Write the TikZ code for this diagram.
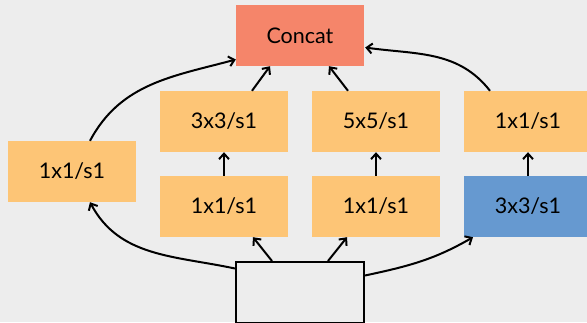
\documentclass[tikz,border=0pt]{standalone}
\usepackage{fontspec}
\setmainfont{Lato}
\usetikzlibrary{arrows.meta,calc}
\definecolor{bg}{HTML}{EDEDED}
\definecolor{orangebox}{HTML}{FDC576}
\definecolor{salmonbox}{HTML}{F5856A}
\definecolor{bluebox}{HTML}{6699D0}
\tikzset{
  box/.style={minimum width=128pt,minimum height=61pt,inner sep=0pt,
    font=\fontsize{21.5}{25}\selectfont},
  conv/.style={box,fill=orangebox},
  arr/.style={line width=2pt,-{Straight Barb[length=5.5pt,width=10pt,line width=2pt]}}
}
\begin{document}
\begin{tikzpicture}[x=1pt,y=-1pt]
\fill[bg] (0,0) rectangle (587,322);
\useasboundingbox (0,0) rectangle (587,322);
\node[box,fill=salmonbox] (concat) at (300,35.5) {Concat};
\node[conv] (a3) at (224,121.5) {3x3/s1};
\node[conv] (a5) at (376,121.5) {5x5/s1};
\node[conv] (a1) at (528,121.5) {1x1/s1};
\node[conv] (lft) at (72,171.5) {1x1/s1};
\node[conv] (b1) at (224,206.5) {1x1/s1};
\node[conv] (b2) at (376,206.5) {1x1/s1};
\node[box,fill=bluebox] (b3) at (528,206.5) {3x3/s1};
\node[box,draw,fill=bg,line width=2pt,minimum height=61pt] (inp) at (300,292.5) {};
% to concat
\draw[arr] ([xshift=18pt]lft.north) to[out=62,in=195] ([yshift=-24pt]concat.west);
\draw[arr] ([xshift=28pt]a3.north) -- ([xshift=-30pt]concat.south);
\draw[arr] ([xshift=-28pt]a5.north) -- ([xshift=29pt]concat.south);
\draw[arr] ([xshift=-38pt]a1.north) to[out=128,in=-8] ([yshift=-12pt,xshift=1pt]concat.east);
% vertical
\draw[arr] (b1.north) -- (a3.south);
\draw[arr] (b2.north) -- (a5.south);
\draw[arr] (b3.north) -- (a1.south);
% from input
\draw[arr] ([xshift=-28pt]inp.north) -- ([xshift=29pt]b1.south);
\draw[arr] ([xshift=28pt]inp.north) -- ([xshift=-29pt]b2.south);
\draw[arr] ([yshift=24pt]inp.west) to[out=168,in=-62] ([xshift=18pt]lft.south);
\draw[arr] ([yshift=17pt]inp.east) to[out=12,in=-150] ([xshift=-55pt]b3.south);
\end{tikzpicture}
\end{document}
